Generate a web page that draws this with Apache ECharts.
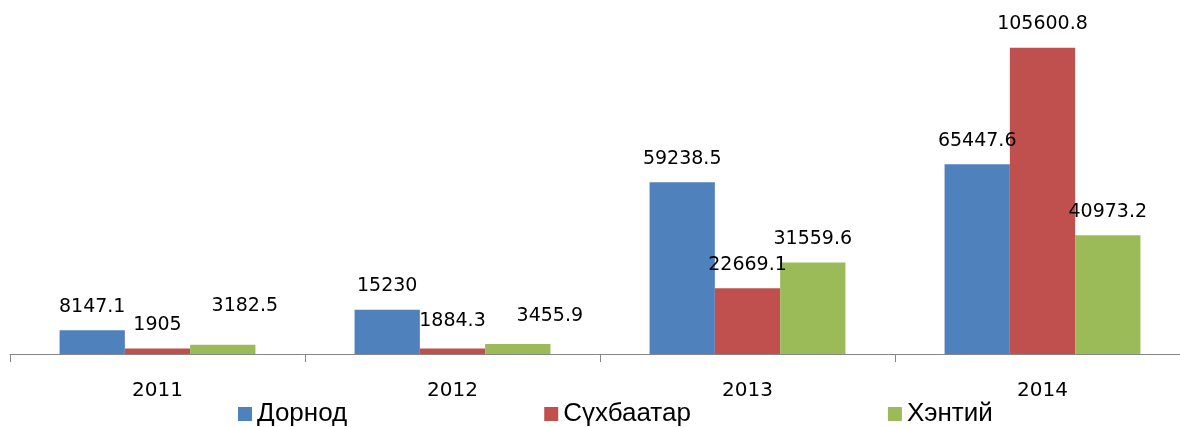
<!DOCTYPE html>
<html>
<head>
<meta charset="utf-8">
<script src="https://cdn.jsdelivr.net/npm/echarts@6/dist/echarts.min.js"></script>
<style>
    html, body { margin: 0; padding: 0; background: #fff; }
    #chart { width: 1180px; height: 427px; }
</style>
</head>
<body>
<div id="chart"></div>
<script>
const years = ['2011', '2012', '2013', '2014']
const seriesNames = ['Дорнод', 'Сүхбаатар', 'Хэнтий']
const dornod = [8147.1, 15230, 59238.5, 65447.6]
const sukhbaatar = [1905, 1884.3, 22669.1, 105600.8]
const khentii = [3182.5, 3455.9, 31559.6, 40973.2]
const colors = ['#4F81BD', '#C0504D', '#9BBB59']

// a few labels in the original sit off their bars
const labelShift = {
    2: { 0: [22, -15], 1: [32, -4] },
    1: { 1: [0, -4] }
}

const allValues = [dornod, sukhbaatar, khentii]

let myChart = echarts.init(document.getElementById('chart'))

const series = allValues.map((values, s) => {
    return {
        name: seriesNames[s],
        type: 'bar',
        barGap: 0,
        barCategoryGap: '33.6%',
        itemStyle: { color: colors[s] },
        label: {
            show: true,
            position: 'top',
            distance: 14,
            color: '#000',
            fontFamily: 'DejaVu Sans',
            fontSize: 19
        },
        data: values.map((v, i) => {
            const shift = labelShift[s] && labelShift[s][i]
            if (shift) {
                return { value: v, label: { offset: shift } }
            }
            return v
        })
    }
})

myChart.setOption({
    animation: false,
    color: colors,
    // the axis runs past the right edge of the picture
    grid: { left: 10, right: -10, top: 6, bottom: 73, outerBoundsMode: 'none' },
    legend: {
        data: seriesNames,
        left: 238,
        top: 401,
        padding: 0,
        itemGap: 197,
        itemWidth: 14,
        itemHeight: 14,
        icon: 'rect',
        textStyle: {
            fontFamily: 'Liberation Sans',
            fontSize: 26,
            color: '#000'
        }
    },
    xAxis: {
        type: 'category',
        data: years,
        axisLine: { lineStyle: { color: '#868686', width: 1 } },
        axisTick: { show: true, length: 8, lineStyle: { color: '#868686' } },
        axisLabel: {
            margin: 27,
            color: '#000',
            fontFamily: 'DejaVu Sans',
            fontSize: 20
        }
    },
    yAxis: {
        type: 'value',
        min: 0,
        max: 120000,
        show: false,
        splitLine: { show: false }
    },
    series
})
</script>
</body>
</html>
